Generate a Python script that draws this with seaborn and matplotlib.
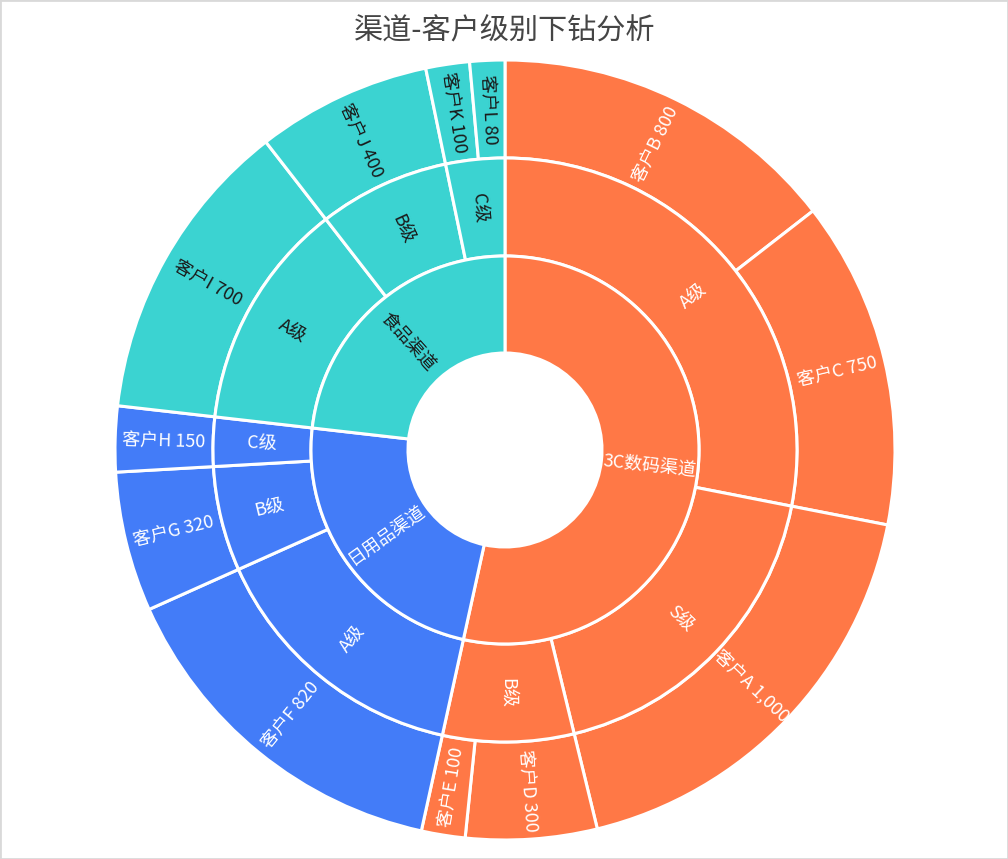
import numpy as np
import matplotlib
matplotlib.use("Agg")
import matplotlib.pyplot as plt
import seaborn as sns
from matplotlib.patches import Rectangle

# ---- data ----
channels = ["3C数码渠道", "日用品渠道", "食品渠道"]
channel_colors = ["#FF7846", "#437CF8", "#3BD3D1"]
text_colors = ["white", "white", "#1a1a1a"]

levels = [
    ["A级", "S级", "B级"],
    ["A级", "B级", "C级"],
    ["A级", "B级", "C级"],
]
customers = [
    [["客户B", "客户C"], ["客户A"], ["客户D", "客户E"]],
    [["客户F"], ["客户G"], ["客户H"]],
    [["客户I"], ["客户J"], ["客户K", "客户L"]],
]
values = [
    [[800, 750], [1000], [300, 100]],
    [[820], [320], [150]],
    [[700], [400], [100, 80]],
]

sns.set_theme(style="white")
plt.rcParams["font.family"] = ["Noto Sans CJK SC", "DejaVu Sans"]

W, H = 1008, 859
fig = plt.figure(figsize=(W / 100, H / 100), dpi=100)
fig.patch.set_facecolor("white")

cx, cy = 505, H - 450
half = 400
ax = fig.add_axes([(cx - half) / W, (cy - half) / H, 2 * half / W, 2 * half / H])

r_hole, r1, r2, r3 = 97, 194, 292, 390

# build ring lists
ring1_vals, ring1_cols, ring1_labels, ring1_tc = [], [], [], []
ring2_vals, ring2_cols, ring2_labels, ring2_tc = [], [], [], []
ring3_vals, ring3_cols, ring3_labels, ring3_tc = [], [], [], []
for ci, ch in enumerate(channels):
    ch_total = sum(sum(v) for v in values[ci])
    ring1_vals.append(ch_total)
    ring1_cols.append(channel_colors[ci])
    ring1_labels.append(ch)
    ring1_tc.append(text_colors[ci])
    for li, lv in enumerate(levels[ci]):
        ring2_vals.append(sum(values[ci][li]))
        ring2_cols.append(channel_colors[ci])
        ring2_labels.append(lv)
        ring2_tc.append(text_colors[ci])
        for ki, cu in enumerate(customers[ci][li]):
            v = values[ci][li][ki]
            ring3_vals.append(v)
            ring3_cols.append(channel_colors[ci])
            ring3_labels.append(f"{cu} {v:,}")
            ring3_tc.append(text_colors[ci])

wp = dict(edgecolor="white", linewidth=2.2)
for vals, cols, r_out, r_in in [
    (ring3_vals, ring3_cols, r3, r2),
    (ring2_vals, ring2_cols, r2, r1),
    (ring1_vals, ring1_cols, r1, r_hole),
]:
    ax.pie(vals, colors=cols, radius=r_out, startangle=90, counterclock=False,
           wedgeprops=dict(width=r_out - r_in, **wp))

total = sum(ring1_vals)


def add_labels(vals, labels, tcs, r_mid):
    cum = 0
    for v, lab, tc in zip(vals, labels, tcs):
        mid = (cum + v / 2) / total * 360.0  # clockwise from top
        cum += v
        theta = np.deg2rad(90 - mid)
        x, y = r_mid * np.cos(theta), r_mid * np.sin(theta)
        rot = 90 - mid
        while rot <= -90:
            rot += 180
        while rot > 90:
            rot -= 180
        ax.text(x, y, lab, rotation=rot, rotation_mode="anchor",
                ha="center", va="center", fontsize=13, color=tc)


add_labels(ring1_vals, ring1_labels, ring1_tc, (r_hole + r1) / 2)
add_labels(ring2_vals, ring2_labels, ring2_tc, (r1 + r2) / 2)
add_labels(ring3_vals, ring3_labels, ring3_tc, (r2 + r3) / 2)

ax.set_xlim(-half, half)
ax.set_ylim(-half, half)
ax.set_aspect("equal")
ax.axis("off")

fig.text(505 / W, 1 - 32 / H, "渠道-客户级别下钻分析", ha="center", va="center",
         fontsize=21, color="#454545")

fig.patches.append(Rectangle((0, 0), 1, 1, transform=fig.transFigure, fill=False,
                             edgecolor="#d9d9d9", linewidth=2, zorder=10))

fig.savefig("out.png", dpi=100, facecolor="white")
